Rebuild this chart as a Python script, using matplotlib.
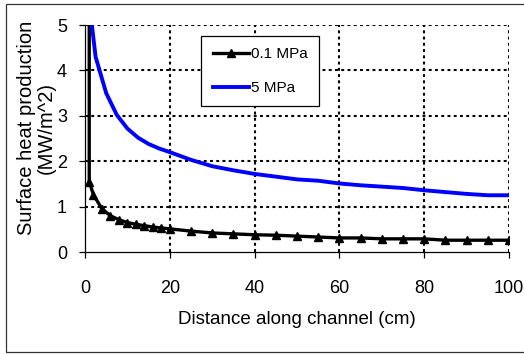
import numpy as np
import matplotlib
matplotlib.use("Agg")
import matplotlib.pyplot as plt
from matplotlib.patches import Rectangle

plt.rcParams["font.family"] = ["Liberation Sans", "DejaVu Sans"]

# distance along channel (cm) and surface heat production (MW/m^2)
dist_low = [1, 1, 2, 4, 6, 8, 10, 12, 14, 16, 18, 20, 25, 30, 35, 40, 45,
            50, 55, 60, 65, 70, 75, 80, 85, 90, 95, 100]
heat_low = [20.0, 1.55, 1.26, 0.95, 0.80, 0.71, 0.65, 0.61, 0.58, 0.55,
            0.53, 0.51, 0.46, 0.42, 0.40, 0.38, 0.37, 0.35, 0.33, 0.31,
            0.31, 0.29, 0.29, 0.29, 0.26, 0.26, 0.26, 0.26]

dist_high = [1, 2.5, 5, 7.5, 10, 12.5, 15, 17.5, 20, 25, 30, 35, 40, 45, 50,
             55, 60, 65, 70, 75, 80, 85, 90, 95, 100]
heat_high = [5.5, 4.3, 3.5, 3.02, 2.72, 2.52, 2.38, 2.28, 2.2, 2.03, 1.89,
             1.80, 1.72, 1.66, 1.60, 1.57, 1.51, 1.47, 1.44, 1.41, 1.36,
             1.32, 1.28, 1.25, 1.25]

labels = ["0.1 MPa", "5 MPa"]
xticks = [0, 20, 40, 60, 80, 100]
yticks = [0, 1, 2, 3, 4, 5]

fig = plt.figure(figsize=(5.24, 3.54), dpi=100)
ax = fig.add_axes([0.1622, 0.2881, 0.8092, 0.6412])

ax.plot(dist_low, heat_low, color="black", lw=2.4, marker="^", ms=6,
        label=labels[0])
ax.plot(dist_high, heat_high, color="#0000ff", lw=2.8, label=labels[1])

ax.set_xlim(0, 100)
ax.set_ylim(0, 5)
ax.set_xticks(xticks)
ax.set_yticks(yticks)

# dotted grid, drawn also at the top and right edges
for v in xticks[1:]:
    ax.axvline(v, color="black", lw=1.5, ls=(0, (1.4, 1.6)), zorder=0.5)
for v in yticks[1:]:
    ax.axhline(v, color="black", lw=1.5, ls=(0, (1.4, 1.6)), zorder=0.5)

for s in ["top", "right"]:
    ax.spines[s].set_visible(False)
for s in ["left", "bottom"]:
    ax.spines[s].set_linewidth(0.9)

ax.tick_params(direction="out", length=4.5, width=0.9, labelsize=13)
ax.tick_params(axis="y", pad=8.5)
ax.tick_params(axis="x", pad=16)

ax.set_xlabel("Distance along channel (cm)", fontsize=13.5)
ax.xaxis.set_label_coords(0.5, -0.262)
ax.set_ylabel("Surface heat production\n(MW/m^2)", fontsize=14.5,
              linespacing=1.1)
ax.yaxis.set_label_coords(-0.068, 0.546)

leg = ax.legend(loc="upper left", bbox_to_anchor=(0.274, 0.953),
                borderaxespad=0, fancybox=False, framealpha=1,
                edgecolor="black", fontsize=11, handlelength=2.4,
                handletextpad=0.1, labelspacing=1.3, borderpad=0.75)
leg.get_frame().set_linewidth(0.9)

# outer chart border
fig.patches.append(Rectangle((0.011, 0.006), 1.2, 0.982,
                             transform=fig.transFigure, fill=False,
                             edgecolor="#333333", lw=0.9))

fig.savefig("out.png", dpi=100)
